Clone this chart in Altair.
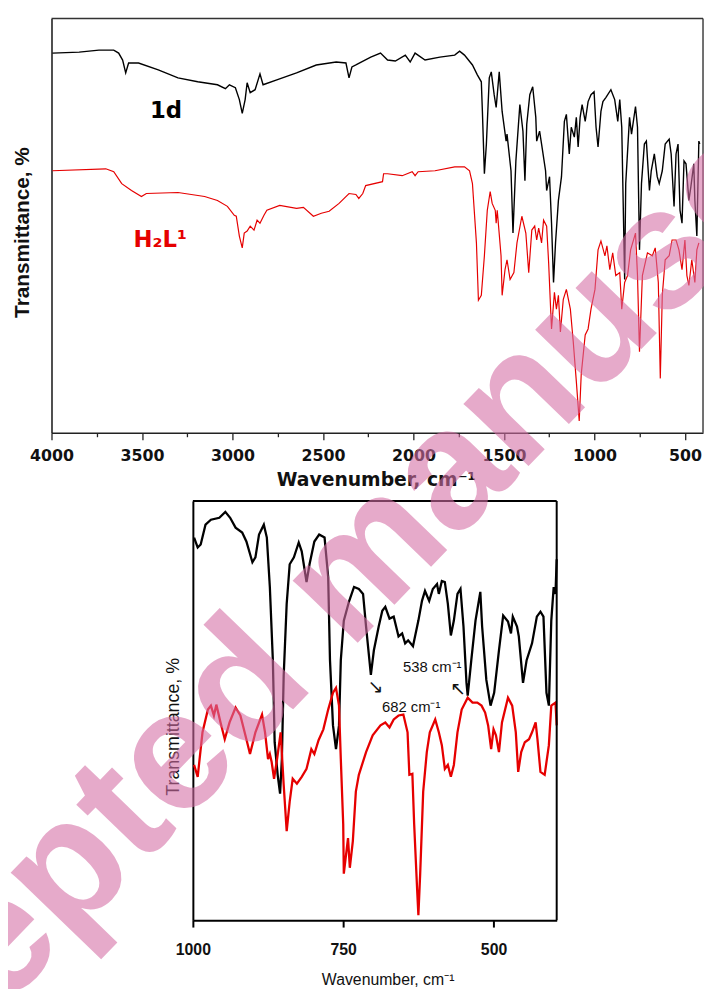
import altair as alt
import pandas as pd

# ---------------- data ----------------
# upper panel: (wavenumber cm-1, transmittance in arbitrary units)
top_1d = [
    (3995, 96.0), (3847, 96.25), (3738, 96.75), (3656, 96.75), (3629, 96.0), (3607, 94.25),
    (3590, 91.0), (3574, 93.5), (3519, 93.5), (3410, 91.75), (3301, 89.75), (3192, 88.75),
    (3083, 88.0), (3039, 87.0), (3017, 88.0), (2984, 87.25), (2962, 84.25), (2946, 80.75),
    (2930, 84.25), (2919, 88.5), (2902, 86.0), (2875, 86.75), (2848, 90.75), (2831, 88.0),
    (2755, 89.25), (2646, 91.0), (2537, 93.0), (2427, 93.75), (2373, 93.5), (2356, 89.75),
    (2340, 92.5), (2318, 93.0), (2236, 95.0), (2182, 96.0), (2143, 94.25), (2100, 94.0),
    (2045, 95.5), (2018, 93.75), (1991, 96.0), (1936, 94.25), (1854, 95.0), (1772, 95.5),
    (1745, 96.5), (1718, 95.5), (1674, 93.0), (1647, 90.5), (1625, 88.75), (1619, 81.25),
    (1608, 65.5), (1597, 73.0), (1581, 89.75), (1570, 91.25), (1554, 85.5), (1543, 82.25),
    (1526, 91.25), (1510, 81.25), (1488, 73.75), (1483, 75.5), (1461, 66.25), (1450, 50.5),
    (1434, 68.75), (1412, 83.0), (1395, 76.25), (1384, 63.75), (1374, 78.0), (1357, 85.5),
    (1341, 87.5), (1324, 79.75), (1319, 73.75), (1303, 76.25), (1292, 73.0), (1270, 66.25),
    (1264, 61.25), (1248, 64.75), (1237, 53.0), (1226, 38.0), (1215, 48.0), (1199, 58.75),
    (1182, 64.75), (1166, 78.75), (1155, 80.5), (1139, 70.5), (1128, 77.25), (1111, 74.75),
    (1100, 79.75), (1090, 72.25), (1079, 79.75), (1068, 83.0), (1051, 78.75), (1035, 83.75),
    (1019, 85.5), (1002, 86.25), (991, 77.25), (980, 72.25), (964, 81.25), (953, 83.75),
    (937, 84.75), (909, 86.75), (888, 84.25), (871, 78.75), (860, 84.25), (849, 77.25),
    (833, 38.75), (827, 63.0), (806, 79.75), (795, 75.5), (773, 82.5), (762, 77.25),
    (751, 46.25), (740, 63.0), (724, 73.0), (713, 73.75), (696, 61.25), (686, 66.25),
    (669, 70.5), (653, 64.75), (642, 63.0), (625, 66.25), (609, 73.0), (587, 74.25),
    (576, 70.5), (560, 57.25), (549, 70.5), (538, 73.0), (527, 56.25), (516, 53.0),
    (505, 68.75), (494, 68.0), (478, 58.75), (467, 62.25), (451, 68.0), (445, 58.75),
    (434, 49.75), (423, 73.75), (418, 73.0),
]
top_h2l1 = [
    (3995, 66.25), (3700, 66.75), (3656, 66.0), (3612, 63.0), (3558, 61.25), (3503, 59.75),
    (3476, 60.5), (3301, 60.75), (3154, 59.75), (3083, 58.75), (3028, 57.25), (2990, 55.0),
    (2979, 54.75), (2962, 49.75), (2946, 46.75), (2935, 50.5), (2919, 51.0), (2902, 52.25),
    (2881, 51.25), (2864, 53.75), (2848, 53.0), (2826, 55.0), (2810, 56.25), (2739, 57.5),
    (2646, 56.75), (2608, 57.0), (2553, 54.75), (2509, 55.5), (2466, 56.0), (2411, 58.0),
    (2356, 60.5), (2318, 60.25), (2302, 59.25), (2280, 60.5), (2264, 62.5), (2171, 63.5),
    (2165, 65.5), (2143, 65.5), (2062, 65.0), (2007, 66.0), (1991, 65.0), (1974, 66.0),
    (1881, 66.25), (1772, 67.25), (1718, 67.25), (1690, 66.25), (1674, 63.0), (1652, 48.0),
    (1641, 33.5), (1625, 34.75), (1608, 44.75), (1592, 56.25), (1576, 61.0), (1565, 58.0),
    (1548, 56.25), (1543, 53.0), (1537, 56.25), (1516, 44.75), (1510, 34.75), (1494, 41.25),
    (1483, 43.75), (1466, 38.75), (1445, 40.5), (1428, 48.0), (1401, 54.75), (1379, 50.5),
    (1363, 40.5), (1346, 51.25), (1330, 52.25), (1319, 48.75), (1308, 51.75), (1292, 48.0),
    (1281, 53.75), (1264, 52.25), (1253, 43.0), (1242, 31.25), (1237, 26.25), (1221, 35.5),
    (1210, 31.25), (1199, 34.75), (1188, 25.5), (1172, 33.75), (1155, 36.25), (1133, 31.25),
    (1117, 23.0), (1100, 13.0), (1084, 3.0), (1073, 14.75), (1051, 24.75), (1035, 26.25),
    (1019, 31.25), (997, 36.25), (980, 46.25), (964, 48.5), (942, 44.75), (931, 47.25),
    (915, 41.25), (899, 45.5), (882, 39.75), (860, 40.5), (849, 31.25), (833, 38.0),
    (817, 39.75), (800, 46.25), (773, 50.5), (762, 39.75), (751, 20.5), (735, 39.75),
    (707, 45.5), (680, 44.75), (664, 46.75), (647, 38.0), (636, 13.75), (625, 34.75),
    (609, 43.75), (587, 44.75), (571, 48.75), (549, 48.75), (533, 46.25), (516, 41.25),
    (500, 48.75), (489, 39.75), (478, 37.25), (462, 43.75), (445, 38.0), (434, 46.25),
    (423, 48.0),
]
# lower panel (1000-395 cm-1)
bot_1d = [
    (998, 96.75), (992, 94.25), (987, 95.0), (979, 100.0), (970, 101.25), (956, 101.75),
    (946, 103.25), (938, 101.75), (929, 99.25), (918, 98.0), (911, 95.75), (901, 90.5),
    (896, 91.75), (890, 97.5), (882, 100.0), (877, 96.75), (872, 84.25), (867, 65.75),
    (864, 45.0), (859, 36.75), (855, 32.0), (852, 40.75), (849, 61.75), (844, 80.0),
    (839, 90.0), (832, 91.75), (824, 95.5), (819, 93.25), (811, 85.5), (806, 90.0),
    (798, 95.75), (790, 97.5), (781, 96.75), (775, 86.75), (772, 65.75), (767, 49.25),
    (762, 43.25), (757, 49.25), (754, 65.75), (749, 75.75), (740, 80.75), (732, 84.25),
    (724, 83.75), (717, 82.5), (712, 74.25), (704, 62.0), (699, 68.25), (691, 74.25),
    (685, 78.25), (680, 79.25), (673, 76.25), (666, 76.75), (658, 71.75), (652, 72.5),
    (647, 70.0), (642, 70.75), (634, 69.25), (625, 75.75), (619, 80.75), (614, 83.25),
    (607, 80.75), (601, 83.75), (594, 85.0), (591, 82.5), (586, 85.75), (581, 85.5),
    (576, 80.0), (571, 72.0), (566, 75.75), (560, 82.5), (555, 83.75), (550, 74.25),
    (545, 60.0), (543, 56.75), (537, 65.75), (530, 75.75), (522, 83.0), (519, 74.25),
    (512, 60.75), (505, 54.25), (499, 57.5), (491, 68.25), (484, 77.0), (476, 75.5),
    (471, 72.5), (468, 76.75), (461, 74.25), (458, 71.75), (451, 60.0), (445, 65.75),
    (436, 70.0), (428, 76.75), (422, 78.0), (417, 76.75), (412, 57.5), (408, 54.25),
    (404, 75.75), (400, 84.25), (397, 82.5), (395, 91.25),
]
bot_h2l1 = [
    (998, 39.25), (992, 36.25), (984, 47.5), (975, 53.25), (970, 54.25), (965, 51.75),
    (961, 54.5), (954, 50.0), (947, 45.75), (939, 50.0), (929, 53.75), (921, 51.75),
    (911, 45.75), (905, 42.0), (896, 47.5), (885, 52.0), (880, 47.5), (875, 40.75),
    (872, 42.0), (869, 40.0), (865, 35.75), (860, 40.75), (854, 47.5), (849, 34.25),
    (844, 22.5), (839, 30.0), (834, 35.75), (827, 34.5), (819, 36.25), (811, 38.25),
    (803, 43.25), (798, 42.0), (791, 45.5), (783, 48.25), (775, 53.25), (767, 57.5),
    (762, 58.75), (757, 54.25), (754, 40.75), (750, 24.25), (749, 11.75), (742, 20.75),
    (739, 13.25), (734, 20.0), (729, 32.5), (724, 36.75), (712, 42.5), (701, 46.75),
    (688, 49.25), (680, 50.0), (673, 48.75), (666, 50.75), (658, 51.75), (650, 52.0),
    (643, 47.5), (640, 36.75), (635, 37.0), (632, 24.25), (627, 7.5), (625, 1.25),
    (622, 11.75), (617, 32.5), (611, 42.5), (606, 47.5), (597, 50.75), (591, 47.5),
    (586, 44.25), (581, 38.25), (576, 39.25), (571, 36.25), (566, 39.25), (560, 47.5),
    (553, 53.25), (543, 56.25), (535, 55.0), (527, 55.0), (520, 54.25), (514, 52.5),
    (509, 49.25), (504, 43.25), (500, 48.25), (496, 46.75), (491, 42.5), (486, 50.0),
    (476, 56.25), (469, 54.25), (463, 47.5), (459, 37.5), (454, 42.5), (448, 45.0),
    (441, 45.75), (436, 47.5), (430, 50.0), (427, 45.75), (422, 37.5), (415, 36.75),
    (408, 44.25), (404, 54.25), (397, 55.0), (395, 49.25),
]

series_names = ["1d", "H2L1"]
series_colors = ["#000000", "#e60000"]
top_widths = [1.4, 1.2]
top_ticks = [4000, 3750, 3500, 3250, 3000, 2750, 2500, 2250, 2000, 1750, 1500, 1250, 1000, 750, 500]
bot_ticks = [1000, 750, 500]
top_labels = ["1d", "H₂L¹"]
top_label_pos = [(3367, 81.25), (3399, 48.75)]
bot_notes = ["538 cm⁻¹", "682 cm⁻¹"]
bot_note_pos = [(602, 64.0), (637, 54.0)]
bot_arrows = ["↖", "↘"]
bot_arrow_pos = [(559, 58.5), (696, 59.0)]
watermark_text = "Accepted manuscript"
watermark_pos = (741, 86.5)


def spectrum(pairs, name, xf, yf):
    return pd.DataFrame({xf: [p[0] for p in pairs], yf: [p[1] for p in pairs],
                         "sample": name, "i": list(range(len(pairs)))})


color_enc = alt.Color("sample:N", scale=alt.Scale(domain=series_names, range=series_colors), legend=None)

# ---------------- upper panel ----------------
top_df = pd.concat([spectrum(top_1d, "1d", "wn", "T"), spectrum(top_h2l1, "H2L1", "wn", "T")])

xt = alt.X("wn:Q",
           scale=alt.Scale(domain=[4000, 400], range=[44, 703], nice=False, zero=False),
           axis=alt.Axis(orient="bottom", offset=-557, values=top_ticks, format="d",
                         labelExpr="datum.value % 500 === 0 ? datum.label : ''",
                         tickSize={"condition": {"test": "datum.value % 500 === 0", "value": 7}, "value": 4},
                         tickColor="#222", tickWidth=1.3, domainColor="#222", domainWidth=1.6,
                         grid=False, labelFlush=False, labelOverlap=False,
                         labelFont="DejaVu Sans", labelFontWeight="bold", labelFontSize=16,
                         labelColor="#111", labelPadding=8,
                         title="Wavenumber, cm⁻¹", titleFont="DejaVu Sans", titleFontWeight="bold",
                         titleFontSize=19, titleColor="#111", titleX=372, titleY=47,
                         titleBaseline="middle", titleAlign="center"))
yt = alt.Y("T:Q",
           scale=alt.Scale(domain=[0, 104.75], range=[424, 5], nice=False, zero=False),
           axis=alt.Axis(orient="left", offset=-44, ticks=False, labels=False, grid=False,
                         domainColor="#222", domainWidth=1.6,
                         title="Transmittance, %", titleFont="Liberation Sans", titleFontWeight="bold",
                         titleFontSize=21, titleColor="#111", titleX=-29, titleY=221,
                         titleBaseline="middle", titleAlign="center"))

top_lines = alt.Chart(top_df).mark_line().encode(
    x=xt, y=yt, color=color_enc,
    strokeWidth=alt.StrokeWidth("sample:N", scale=alt.Scale(domain=series_names, range=top_widths), legend=None),
    order=alt.Order("i:Q"))

top_frame_df = pd.DataFrame({"wn": [4000, 400], "T": [104.75, 0], "wn2": [400, 400], "T2": [104.75, 104.75]})
top_frame = alt.Chart(top_frame_df).mark_rule(color="#333", strokeWidth=1.4).encode(
    x=xt, y=yt, x2="wn2:Q", y2="T2:Q")

top_lab_df = pd.DataFrame({"wn": [p[0] for p in top_label_pos], "T": [p[1] for p in top_label_pos],
                           "txt": top_labels, "sample": series_names})
top_text = alt.Chart(top_lab_df).mark_text(font="DejaVu Sans", fontWeight="bold", fontSize=23,
                                           align="center", baseline="middle").encode(
    x=xt, y=yt, text="txt:N", color=color_enc)

top_panel = alt.layer(top_lines, top_frame, top_text)

# ---------------- lower panel ----------------
bot_df = pd.concat([spectrum(bot_1d, "1d", "bwn", "bT"), spectrum(bot_h2l1, "H2L1", "bwn", "bT")])

xb = alt.X("bwn:Q",
           scale=alt.Scale(domain=[1000, 395], range=[187, 555], nice=False, zero=False),
           axis=alt.Axis(orient="bottom", offset=-64, values=bot_ticks, format="d",
                         tickSize=7, tickColor="#000", tickWidth=2, domainColor="#000", domainWidth=2,
                         grid=False, labelFlush=False, labelOverlap=False,
                         labelFont="Liberation Sans", labelFontWeight="bold", labelFontSize=16,
                         labelColor="#111", labelPadding=15,
                         title="Wavenumber, cm⁻¹", titleFont="Liberation Sans", titleFontWeight="normal",
                         titleFontSize=16, titleColor="#111", titleX=384, titleY=60,
                         titleBaseline="middle", titleAlign="center"))
yb = alt.Y("bT:Q",
           scale=alt.Scale(domain=[0, 106], range=[917, 493], nice=False, zero=False),
           axis=alt.Axis(orient="left", offset=-187, ticks=False, labels=False, grid=False,
                         domainColor="#000", domainWidth=2,
                         title="Transmittance, %", titleFont="Liberation Sans", titleFontWeight="normal",
                         titleFontSize=18, titleColor="#111", titleX=-20, titleY=721,
                         titleBaseline="middle", titleAlign="center"))

bot_lines = alt.Chart(bot_df).mark_line(strokeWidth=2.3).encode(
    x=xb, y=yb, color=color_enc, order=alt.Order("i:Q"))

bot_frame_df = pd.DataFrame({"bwn": [1000, 395], "bT": [106, 0], "bwn2": [395, 395], "bT2": [106, 106]})
bot_frame = alt.Chart(bot_frame_df).mark_rule(color="#000", strokeWidth=2).encode(
    x=xb, y=yb, x2="bwn2:Q", y2="bT2:Q")

notes_df = pd.DataFrame({"bwn": [p[0] for p in bot_note_pos], "bT": [p[1] for p in bot_note_pos],
                         "txt": bot_notes})
bot_notes_layer = alt.Chart(notes_df).mark_text(font="Liberation Sans", fontSize=15, color="#111",
                                                align="center", baseline="middle").encode(
    x=xb, y=yb, text="txt:N")

arrows_df = pd.DataFrame({"bwn": [p[0] for p in bot_arrow_pos], "bT": [p[1] for p in bot_arrow_pos],
                          "txt": bot_arrows})
bot_arrows_layer = alt.Chart(arrows_df).mark_text(font="DejaVu Sans", fontSize=19, color="#111",
                                                  align="center", baseline="middle").encode(
    x=xb, y=yb, text="txt:N")

wm_df = pd.DataFrame({"bwn": [watermark_pos[0]], "bT": [watermark_pos[1]], "txt": [watermark_text]})
watermark = alt.Chart(wm_df).mark_text(font="Liberation Sans", fontWeight="bold", fontSize=172,
                                       angle=314, color="#d56ea5", opacity=0.58,
                                       align="center", baseline="middle").encode(
    x=xb, y=yb, text="txt:N")

bot_panel = alt.layer(bot_lines, bot_frame, bot_notes_layer, bot_arrows_layer, watermark)

chart = alt.layer(top_panel, bot_panel).resolve_scale(
    x="independent", y="independent"
).properties(
    width=704, height=981, padding=0,
    autosize=alt.AutoSizeParams(type="none"),
    background="white",
).configure_view(strokeWidth=0)

chart.save("out.html", embed_options={"renderer": "svg", "actions": False})
